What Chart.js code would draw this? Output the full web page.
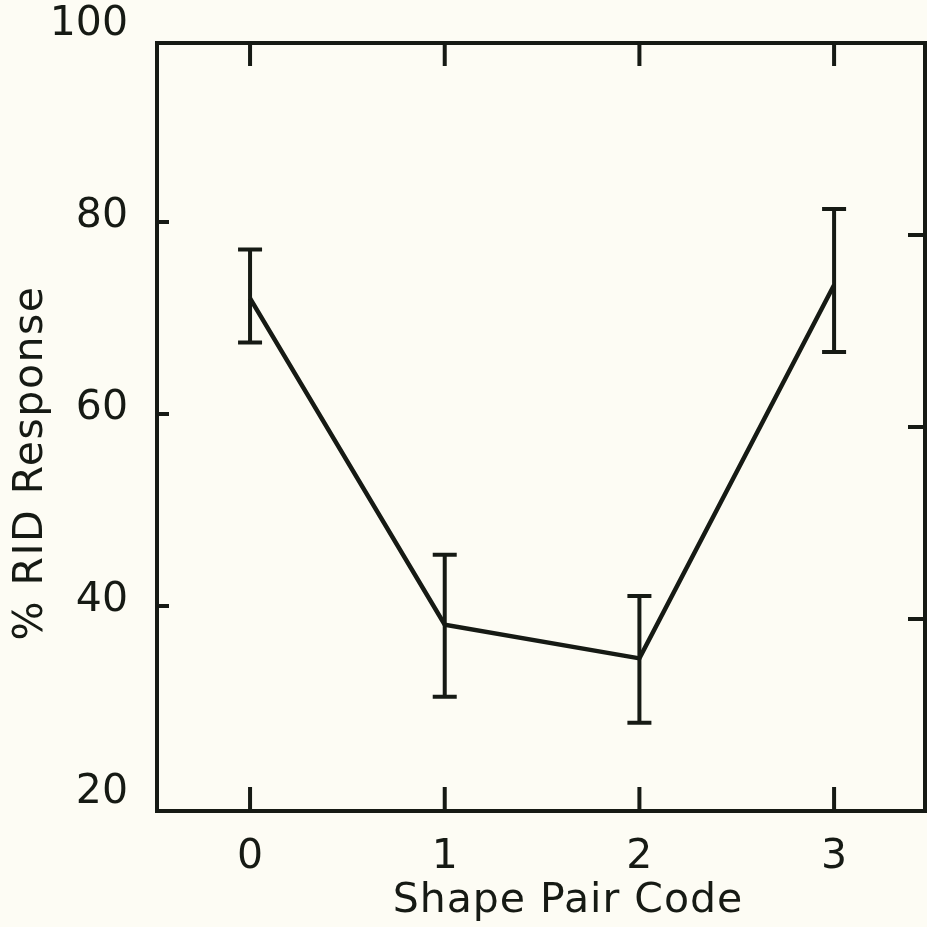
<!DOCTYPE html>
<html>
<head>
<meta charset="utf-8">
<script src="https://cdn.jsdelivr.net/npm/chart.js@4.4.1/dist/chart.umd.min.js"></script>
<style>
  html, body { margin: 0; padding: 0; background: #fdfcf4; }
  #wrap { width: 927px; height: 927px; }
</style>
</head>
<body>
<div id="wrap"><canvas id="rid" width="927" height="927"></canvas></div>
<script>
// shape pair codes and % RID response (mean with error bar ends)
const codes = [0, 1, 2, 3];
const meanPct = [73.4, 39.4, 35.9, 74.8];
const upperPct = [78.5, 46.7, 42.4, 82.7];
const lowerPct = [68.8, 31.9, 29.2, 67.8];
const xTicks = [0, 1, 2, 3];
const yTicks = [20, 40, 60, 80, 100];
const xTitle = "Shape Pair Code";
const yTitle = "% RID Response";

const ink = "#161a14";
const fontFamily = "'DejaVu Sans', sans-serif";

const errorBars = {
    id: "errorBars",
    afterDatasetsDraw(chart) {
        const {ctx, scales: {x, y}} = chart;
        ctx.save();
        ctx.strokeStyle = ink;
        ctx.lineWidth = 4;
        ctx.lineCap = "butt";
        codes.forEach((c, i) => {
            const px = x.getPixelForValue(c);
            const top = y.getPixelForValue(upperPct[i]);
            const bot = y.getPixelForValue(lowerPct[i]);
            ctx.beginPath();
            ctx.moveTo(px, top);
            ctx.lineTo(px, bot);
            ctx.moveTo(px - 12, top);
            ctx.lineTo(px + 12, top);
            ctx.moveTo(px - 12, bot);
            ctx.lineTo(px + 12, bot);
            ctx.stroke();
        });
        ctx.restore();
    }
};

// box round the plot, inward ticks and the two axis titles
const frame = {
    id: "frame",
    afterDraw(chart) {
        const {ctx, chartArea: a, scales: {x, y}} = chart;
        ctx.save();
        ctx.strokeStyle = ink;
        ctx.lineWidth = 4;
        ctx.strokeRect(a.left, a.top, a.right - a.left, a.bottom - a.top);
        ctx.lineWidth = 4;
        ctx.beginPath();
        xTicks.forEach(v => {
            const px = x.getPixelForValue(v);
            ctx.moveTo(px, a.top);
            ctx.lineTo(px, a.top + 23);
            ctx.moveTo(px, a.bottom);
            ctx.lineTo(px, a.bottom - 24);
        });
        yTicks.slice(1, -1).forEach(v => {
            const py = y.getPixelForValue(v);
            ctx.moveTo(a.left, py - 13);
            ctx.lineTo(a.left + 12, py - 13);
            ctx.moveTo(a.right, py);
            ctx.lineTo(a.right - 17, py);
        });
        ctx.stroke();

        ctx.fillStyle = ink;
        ctx.font = "41px " + fontFamily;
        ctx.letterSpacing = "1px";
        ctx.textAlign = "center";
        ctx.textBaseline = "alphabetic";
        ctx.fillText(xTitle, (a.left + a.right) / 2 + 27, a.bottom + 101);
        ctx.translate(42, (a.top + a.bottom) / 2 + 36);
        ctx.rotate(-Math.PI / 2);
        ctx.letterSpacing = "1.5px";
        ctx.fillText(yTitle, 0, 0);
        ctx.restore();
    }
};

const chart = new Chart(document.getElementById("rid"), {
    type: "line",
    data: {
        datasets: [{
            data: codes.map((c, i) => ({x: c, y: meanPct[i]})),
            borderColor: ink,
            borderWidth: 4.5,
            pointRadius: 0,
            tension: 0,
            fill: false
        }]
    },
    options: {
        responsive: false,
        animation: false,
        devicePixelRatio: 1,
        layout: {padding: {top: 43, right: 2, left: 0, bottom: 0}},
        plugins: {
            legend: {display: false},
            tooltip: {enabled: false}
        },
        scales: {
            x: {
                type: "linear",
                min: -0.478,
                max: 3.467,
                afterBuildTicks: s => { s.ticks = xTicks.map(v => ({value: v})); },
                afterFit: s => {
                    s.height = 116;
                    s.paddingLeft = 0;
                    s.paddingRight = 0;
                },
                grid: {display: false, drawTicks: false},
                border: {display: false},
                ticks: {
                    color: ink,
                    padding: 22,
                    font: {family: fontFamily, size: 41}
                }
            },
            y: {
                type: "linear",
                min: 20,
                max: 100,
                afterBuildTicks: s => { s.ticks = yTicks.map(v => ({value: v})); },
                afterFit: s => {
                    s.width = 157;
                    s.paddingTop = 0;
                    s.paddingBottom = 0;
                },
                grid: {display: false, drawTicks: false},
                border: {display: false},
                ticks: {
                    color: ink,
                    padding: 29,
                    labelOffset: -19,
                    font: {family: fontFamily, size: 41}
                }
            }
        }
    },
    plugins: [errorBars, frame]
});
</script>
</body>
</html>
